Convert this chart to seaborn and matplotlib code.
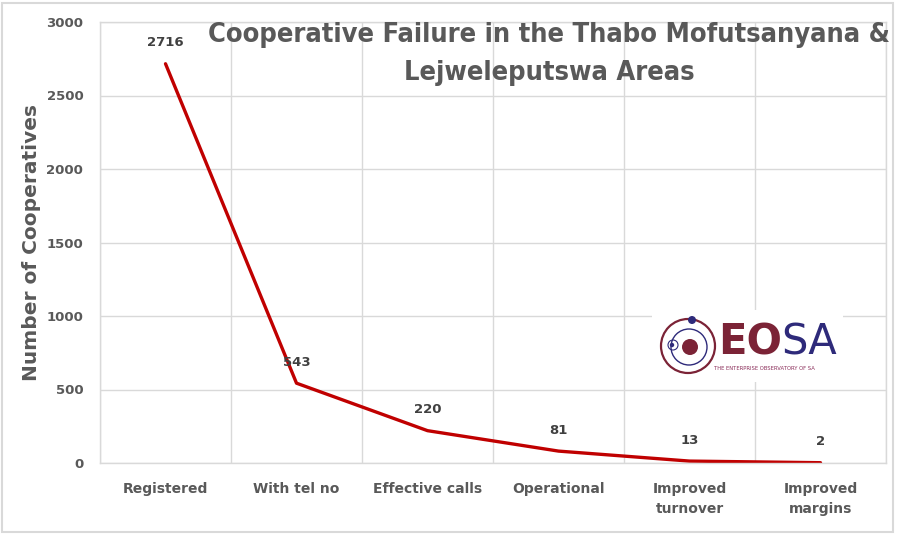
import matplotlib
matplotlib.use("Agg")
import matplotlib.pyplot as plt
import matplotlib.patheffects as pe
import seaborn as sns
import pandas as pd
from matplotlib import font_manager
from matplotlib.patches import Circle, Rectangle

categories = ["Registered", "With tel no", "Effective calls", "Operational",
              "Improved\nturnover", "Improved\nmargins"]
values = [2716, 543, 220, 81, 13, 2]
y_ticks = [0, 500, 1000, 1500, 2000, 2500, 3000]
title_text = "Cooperative Failure in the Thabo Mofutsanyana &\nLejweleputswa Areas"
y_label = "Number of Cooperatives"


def _w(f):
    try:
        return int(f.weight)
    except (TypeError, ValueError):
        return {"bold": 700, "semibold": 600, "demibold": 600, "heavy": 800,
                "black": 900, "extra bold": 800}.get(str(f.weight).lower(), 400)


narrow = [f for f in font_manager.fontManager.ttflist
          if "narrow" in f.name.lower() or "condensed" in f.name.lower()
          or str(f.stretch) in ("condensed", "semi-condensed")]
bold_narrow = [f for f in narrow if _w(f) >= 600]
if bold_narrow:
    t_font, t_weight, t_stretch, fake_bold = bold_narrow[0].name, "bold", bold_narrow[0].stretch, False
elif narrow:
    t_font, t_weight, t_stretch, fake_bold = narrow[0].name, "bold", narrow[0].stretch, True
else:
    t_font, t_weight, t_stretch, fake_bold = "Roboto", "bold", "normal", False

sns.set_theme(style="white")
plt.rcParams['font.family'] = ['DejaVu Sans']

df = pd.DataFrame({"cat": categories, "val": values})
df["pos"] = range(len(df))

fig = plt.figure(figsize=(9, 5.34), dpi=100)
ax = fig.add_axes([100/900, 71/534, 786/900, 441/534])

sns.lineplot(data=df, x="pos", y="val", ax=ax, color="#C00000", linewidth=2.4,
             sort=False, legend=False)

ax.set_xlim(-0.5, len(categories) - 0.5)
ax.set_ylim(0, 3000)
ax.set_yticks(y_ticks)
ax.set_yticklabels([str(t) for t in y_ticks], fontsize=9.5, fontweight="bold", color="#595959")
ax.set_xticks(range(len(categories)))
ax.set_xticklabels(categories, fontsize=10, fontweight="bold", color="#595959",
                   linespacing=1.55)
ax.tick_params(axis="x", length=0, pad=14)
ax.tick_params(axis="y", length=0, pad=12)
ax.set_xticks([i - 0.5 for i in range(len(categories) + 1)], minor=True)
ax.tick_params(axis="x", which="minor", length=0)
ax.grid(False)
ax.grid(axis="y", which="major", color="#d9d9d9", linewidth=1)
ax.grid(axis="x", which="minor", color="#d9d9d9", linewidth=1)
for s in ax.spines.values():
    s.set_color("#d9d9d9")
    s.set_linewidth(1)
ax.set_xlabel("")
ax.set_ylabel(y_label, fontsize=14.5, fontweight="bold", color="#595959", labelpad=4)

for i, v in enumerate(values):
    ax.annotate(str(v), (i, v), xytext=(0, 15), textcoords="offset points",
                ha="center", va="center", fontsize=9.5, fontweight="bold", color="#404040")

effects = [pe.withStroke(linewidth=1.3, foreground="#595959")] if fake_bold else []
title = fig.text(549/900, 1 - 54/534, title_text, ha="center", va="center",
                 fontsize=24, fontweight=t_weight, color="#595959", family=t_font,
                 fontstretch=t_stretch, linespacing=1.55, path_effects=effects)
fig.canvas.draw()
w = title.get_window_extent().width
title.set_fontsize(24 * 686 / w)

# logo box
lax = fig.add_axes([652/900, (534-382)/534, 191/900, 72/534])
lax.set_xlim(652, 843)
lax.set_ylim(382, 310)
lax.axis("off")
lax.add_patch(Rectangle((652, 310), 191, 72, facecolor="white", edgecolor="none"))
red = "#7B2336"
navy = "#2E2A7A"
lax.add_patch(Circle((688, 346), 27, fill=False, edgecolor=red, linewidth=1.6))
lax.add_patch(Circle((689, 347), 18, fill=False, edgecolor=navy, linewidth=1.0))
lax.add_patch(Circle((690, 347), 8, facecolor=red, edgecolor="none"))
lax.add_patch(Circle((692, 320), 4, facecolor=navy, edgecolor="none"))
lax.add_patch(Circle((673, 345), 5, fill=False, edgecolor=navy, linewidth=0.8))
lax.add_patch(Circle((672, 345), 2.2, facecolor=navy, edgecolor="none"))
lax.text(718, 342, "EO", color=red, fontsize=30, fontweight="bold", ha="left", va="center")
lax.text(781, 342, "SA", color=navy, fontsize=30, fontweight="normal", ha="left", va="center")
lax.text(714, 368, "THE ENTERPRISE OBSERVATORY OF SA", color="#8B2E5A", fontsize=3.8,
         ha="left", va="center")

fig.patches.append(Rectangle((0.002, 0.004), 0.99, 0.99, transform=fig.transFigure,
                             fill=False, edgecolor="#d9d9d9", linewidth=1.5))

fig.savefig("out.png", dpi=100)
